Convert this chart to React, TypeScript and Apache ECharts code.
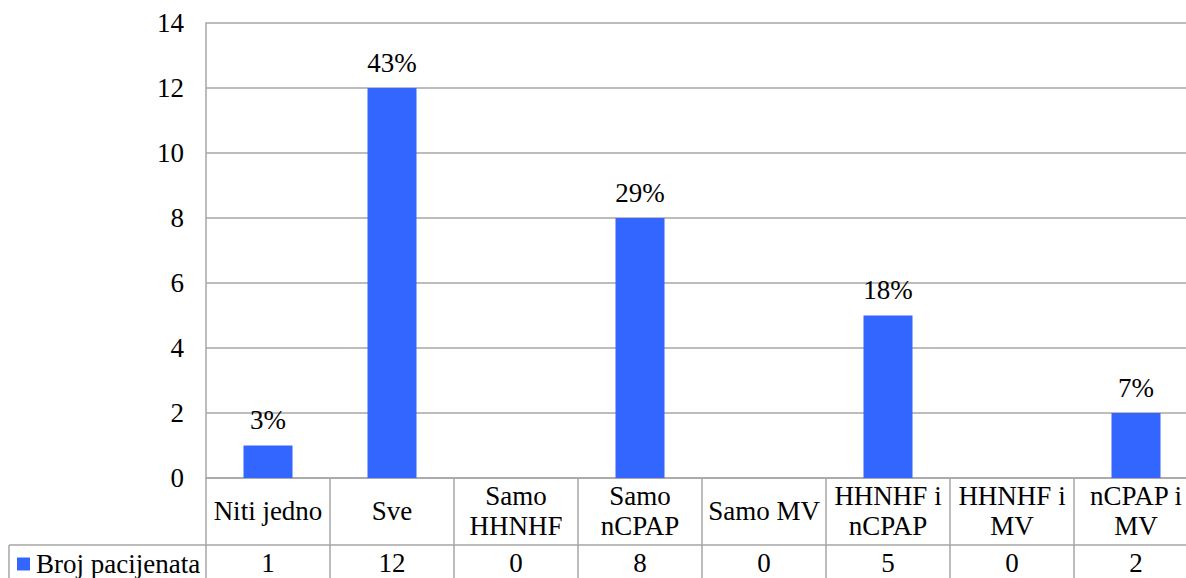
import React, { useEffect, useRef } from "react";
import * as echarts from "echarts";

const categories = [
  "Niti jedno",
  "Sve",
  "Samo\nHHNHF",
  "Samo\nnCPAP",
  "Samo MV",
  "HHNHF i\nnCPAP",
  "HHNHF i\nMV",
  "nCPAP i\nMV",
];
const values = [1, 12, 0, 8, 0, 5, 0, 2];
const percentLabels = ["3%", "43%", "", "29%", "", "18%", "", "7%"];
const seriesName = "Broj pacijenata";
const yTicks = { min: 0, max: 14, interval: 2 };

const FONT = "Liberation Serif";
const FS = 27;
const LINE = "#a6a6a6";
const BAR = "#3366FF";

export default function App() {
  const ref = useRef<HTMLDivElement>(null);
  useEffect(() => {
    document.body.style.margin = "0";
    const chart = echarts.init(ref.current!, null, { renderer: "svg" });
    chart.setOption({
      animation: false,
      textStyle: { fontFamily: FONT, color: "#000" },
      grid: { left: 206, top: 23, bottom: 100, right: 2, containLabel: false },
      legend: {
        show: true,
        left: 12,
        top: 544,
        icon: "rect",
        itemWidth: 13,
        itemHeight: 13,
        itemGap: 6,
        textStyle: { fontFamily: FONT, fontSize: FS, color: "#000", lineHeight: 30, padding: [0, 0, 0, 1] },
        data: [seriesName],
      },
      xAxis: [
        {
          type: "category",
          data: categories,
          position: "bottom",
          axisLine: { show: true, lineStyle: { color: LINE, width: 1.5 } },
          axisTick: { show: true, length: 100, interval: 0, lineStyle: { color: LINE, width: 1.5 } },
          axisLabel: {
            interval: 0,
            margin: 33,
            verticalAlign: "middle",
            fontFamily: FONT,
            fontSize: FS,
            lineHeight: 30,
            color: "#000",
          },
        },
        {
          type: "category",
          data: values.map(String),
          position: "bottom",
          axisLine: { show: false },
          axisTick: { show: false },
          axisLabel: {
            interval: 0,
            margin: 85,
            verticalAlign: "middle",
            fontFamily: FONT,
            fontSize: FS,
            color: "#000",
          },
        },
      ],
      yAxis: {
        type: "value",
        min: yTicks.min,
        max: yTicks.max,
        interval: yTicks.interval,
        axisLine: { show: true, lineStyle: { color: LINE, width: 1.5 } },
        axisTick: { show: false },
        splitLine: { show: true, lineStyle: { color: LINE, width: 1.5 } },
        axisLabel: { margin: 22, fontFamily: FONT, fontSize: FS, color: "#000" },
      },
      graphic: [
        {
          type: "line",
          shape: { x1: 9, y1: 545, x2: 1210, y2: 545 },
          style: { stroke: LINE, lineWidth: 1.5 },
        },
        {
          type: "line",
          shape: { x1: 9, y1: 545, x2: 9, y2: 580 },
          style: { stroke: LINE, lineWidth: 1.5 },
        },
      ],
      series: [
        {
          name: seriesName,
          type: "bar",
          xAxisIndex: 0,
          data: values,
          barWidth: 49,
          itemStyle: { color: BAR },
          label: {
            show: true,
            position: "top",
            distance: 12,
            fontFamily: FONT,
            fontSize: FS,
            color: "#000",
            formatter: (p: any) => percentLabels[p.dataIndex],
          },
        },
      ],
    });
    return () => chart.dispose();
  }, []);
  return (
    <div style={{ position: "absolute", left: 0, top: 0, width: 1186, height: 578, overflow: "hidden" }}>
      <div ref={ref} style={{ width: 1200, height: 578 }} />
    </div>
  );
}
